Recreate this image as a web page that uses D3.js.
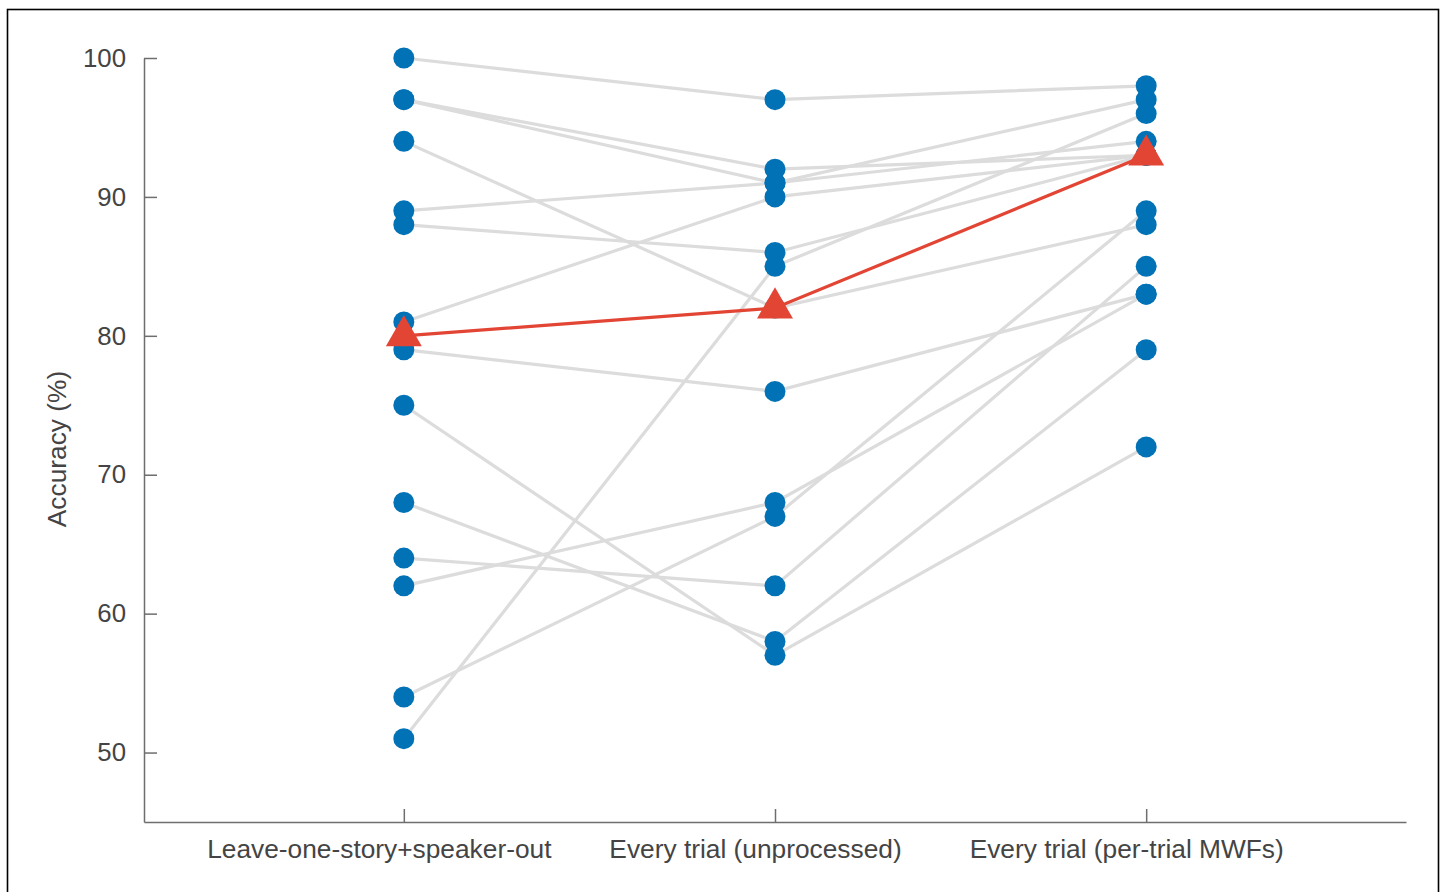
<!DOCTYPE html>
<html>
<head>
<meta charset="utf-8">
<script src="https://cdn.jsdelivr.net/npm/d3@7"></script>
<style>
  html, body { margin: 0; padding: 0; background: #fff; }
  svg { display: block; }
  text { font-family: "Liberation Sans", Arial, Helvetica, sans-serif; }
</style>
</head>
<body>
<svg id="chart" width="1444" height="892"></svg>
<script>
// Conditions along the x axis
const conditions = ["Leave-one-story+speaker-out", "Every trial (unprocessed)", "Every trial (per-trial MWFs)"];

// Per-participant accuracy (%) in each condition, same order as above
const leaveOut    = [100, 97, 97, 94, 89, 88, 81, 79, 75, 68, 64, 62, 54, 51];
const unprocessed = [ 97, 92, 91, 82, 91, 86, 90, 76, 57, 58, 62, 68, 67, 85];
const perTrialMWF = [ 98, 93, 97, 88, 94, 93, 93, 83, 72, 79, 85, 83, 89, 96];

// Group summary per condition
const summary = [80, 82, 93];

// Y axis ticks
const yTicks = [50, 60, 70, 80, 90, 100];

const svg = d3.select("#chart");

const x = d3.scaleLinear().domain([0.3, 3.7]).range([144, 1406]);
const y = d3.scaleLinear().domain([45, 100]).range([822, 58]);

const blue = "#0072b5";
const red = "#e34535";
const grey = "#dcdcdd";
const axisCol = "#6e6e6e";
const textCol = "#444444";

// Outer frame
svg.append("rect")
  .attr("x", 7.5).attr("y", 9.5)
  .attr("width", 1431).attr("height", 895)
  .attr("fill", "none").attr("stroke", "#000").attr("stroke-width", 1.6);

const subjects = leaveOut.map((v, i) => [v, unprocessed[i], perTrialMWF[i]]);

const line = d3.line()
  .x((d, i) => x(i + 1))
  .y(d => y(d));

// Y axis (ticks pointing inward)
const yAxis = svg.append("g")
  .attr("transform", `translate(${x(0.3)},0)`)
  .call(d3.axisRight(y).tickValues(yTicks).tickSize(13).tickSizeOuter(0).tickFormat(d3.format("d")));
yAxis.select(".domain").attr("stroke", axisCol).attr("stroke-width", 1.5);
yAxis.selectAll(".tick line").attr("stroke", axisCol).attr("stroke-width", 1.5);
yAxis.selectAll(".tick text")
  .attr("x", -18).attr("text-anchor", "end")
  .attr("fill", textCol).attr("font-size", 25.8);

// X axis (ticks pointing inward); labels sit slightly left of their ticks
const labelShift = [-25, -20, -20];
const xAxis = svg.append("g")
  .attr("transform", `translate(0,${y(45)})`)
  .call(d3.axisTop(x).tickValues([1, 2, 3]).tickSize(13).tickSizeOuter(0).tickFormat(d => conditions[d - 1]));
xAxis.select(".domain").attr("stroke", axisCol).attr("stroke-width", 1.5);
xAxis.selectAll(".tick line").attr("stroke", axisCol).attr("stroke-width", 1.5);
xAxis.selectAll(".tick text")
  .attr("x", d => labelShift[d - 1]).attr("y", 36).attr("dy", 0)
  .attr("fill", textCol).attr("font-size", 26.3);

// Y axis title
svg.append("text")
  .attr("transform", `translate(66,${y(71.85)}) rotate(-90)`)
  .attr("text-anchor", "middle")
  .attr("fill", textCol).attr("font-size", 26.3)
  .text("Accuracy (%)");

// Participant lines
svg.append("g").selectAll("path")
  .data(subjects)
  .join("path")
  .attr("d", line)
  .attr("fill", "none")
  .attr("stroke", grey)
  .attr("stroke-width", 3.2);

// Participant points
svg.append("g").selectAll("g")
  .data(subjects)
  .join("g")
  .selectAll("circle")
  .data(d => d)
  .join("circle")
  .attr("cx", (d, i) => x(i + 1))
  .attr("cy", d => y(d))
  .attr("r", 10.5)
  .attr("fill", blue);

// Summary line and markers
svg.append("path")
  .datum(summary)
  .attr("d", line)
  .attr("fill", "none")
  .attr("stroke", red)
  .attr("stroke-width", 3.2);

svg.append("g").selectAll("path")
  .data(summary)
  .join("path")
  .attr("transform", (d, i) => `translate(${x(i + 1)},${y(d)})`)
  .attr("d", d3.symbol(d3.symbolTriangle, 560))
  .attr("fill", red);
</script>
</body>
</html>
